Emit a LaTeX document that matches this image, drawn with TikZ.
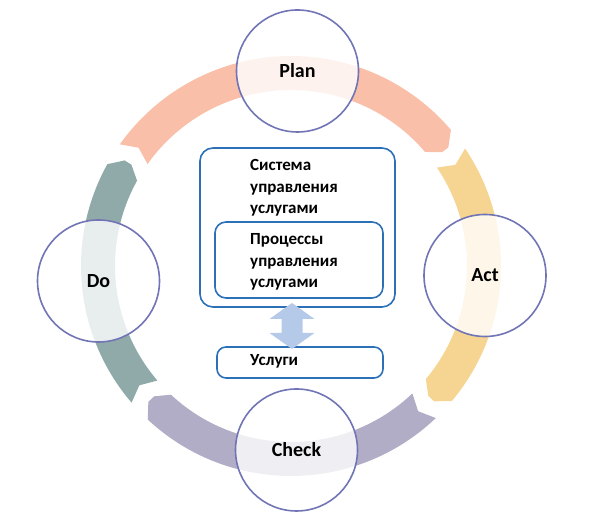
\documentclass[tikz,border=0pt]{standalone}
\usepackage{fontspec}
\setmainfont{Carlito}
\definecolor{cplan}{HTML}{F9BFA8}
\definecolor{cact}{HTML}{F5D591}
\definecolor{ccheck}{HTML}{B1ADC6}
\definecolor{cdo}{HTML}{8FAAA9}
\definecolor{cring}{HTML}{7175B5}
\definecolor{cbox}{HTML}{2C70B8}
\definecolor{carrow}{HTML}{B5CAE9}
\tikzset{
  phase/.style={circle,draw=cring,line width=1.6pt,fill=white,fill opacity=0.8,text opacity=1,
    minimum size=122pt,inner sep=0pt,font=\bfseries\fontsize{20}{24}\selectfont},
  roundbox/.style={draw=cbox,line width=1.6pt,rounded corners=13pt,inner sep=0pt},
  boxtext/.style={align=left,anchor=west,inner sep=0pt,font=\bfseries\fontsize{17}{21.5}\selectfont}
}
\begin{document}
\begin{tikzpicture}[x=1pt,y=1pt]
\useasboundingbox (0,0) rectangle (595,526);
\coordinate (C) at (291,260);
% ring segments (blunt heads, notched tails)
\fill[cplan,shift={(C)}] (144.6:210pt) arc[start angle=144.6,end angle=40.4,radius=210pt] -- (37:197pt) -- (37:189pt) -- (40.4:176pt) arc[start angle=40.4,end angle=144.6,radius=176pt] -- (142.2:193pt) -- cycle;
\fill[cact,shift={(C)}] (34:210pt) arc[start angle=34,end angle=-40,radius=210pt] -- (-43.4:197pt) -- (-43.4:189pt) -- (-40:176pt) arc[start angle=-40,end angle=34,radius=176pt] -- (31.6:193pt) -- cycle;
\fill[ccheck,shift={(C)}] (-46.4:210pt) arc[start angle=-46.4,end angle=-133,radius=210pt] -- (-136.4:197pt) -- (-136.4:189pt) -- (-133:176pt) arc[start angle=-133,end angle=-46.4,radius=176pt] -- (-48.8:193pt) -- cycle;
\fill[cdo,shift={(C)}] (220.6:210pt) arc[start angle=220.6,end angle=151,radius=210pt] -- (147.6:197pt) -- (147.6:189pt) -- (151:176pt) arc[start angle=151,end angle=220.6,radius=176pt] -- (218.2:193pt) -- cycle;
% phase circles
\node[phase] (plan) at (297.5,455) {Plan};
\node[phase] (act) at (485,250.5) {Act};
\node[phase] (check) at (296.5,76) {Check};
\node[phase] (do) at (98.5,245) {Do};
% boxes
\node[roundbox,minimum width=195pt,minimum height=159pt] (sys) at (297.5,298.5) {};
\node[roundbox,rounded corners=11pt,minimum width=168pt,minimum height=76pt] (proc) at (299,266) {};
\node[roundbox,rounded corners=9pt,minimum width=166pt,minimum height=31pt] (usl) at (300,163.5) {};
\node[boxtext] (systext) at (250,338) {Система\\управления\\услугами};
\node[boxtext] (proctext) at (250,264) {Процессы\\управления\\услугами};
\node[boxtext] (usltext) at (250,165) {Услуги};
% double arrow
\coordinate (atop) at (292,223);
\coordinate (abot) at (292,177);
\fill[carrow] (atop) -- ++(-22.5,-16) -- ++(12,0) -- ++(0,-14) -- ++(-12,0) -- (abot) -- ++(22.5,16) -- ++(-12,0) -- ++(0,14) -- ++(12,0) -- cycle;
\end{tikzpicture}
\end{document}
